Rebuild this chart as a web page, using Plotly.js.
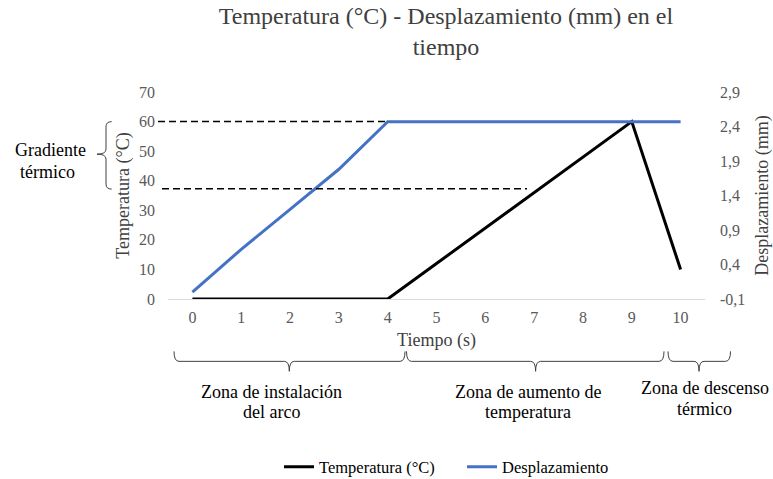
<!DOCTYPE html>
<html><head><meta charset="utf-8">
<script src="https://cdn.plot.ly/plotly-3.0.1.min.js"></script>
<style>html,body{margin:0;padding:0;background:#fff}#chart{width:773px;height:479px}</style>
</head><body><div id="chart"></div>
<script>
// ---- data ----
const tiempo = [0, 1, 2, 3, 4, 5, 6, 7, 8, 9, 10];
const temperatura = [0, 0, 0, 0, 0, 12, 24, 36, 48, 60, 10];
const desplazamiento = [0, 0.62, 1.2, 1.78, 2.47, 2.47, 2.47, 2.47, 2.47, 2.47, 2.47];
const leftTickVals = [0, 10, 20, 30, 40, 50, 60, 70];
const rightTickVals = [-0.1, 0.4, 0.9, 1.4, 1.9, 2.4, 2.9];
const rightTickText = ['-0,1', '0,4', '0,9', '1,4', '1,9', '2,4', '2,9'];
const gradienteLimites = [60, 37.3];
const zonaLineas1 = ['Zona de instalación', 'Zona de aumento de', 'Zona de descenso'];
const zonaLineas2 = ['del arco', 'temperatura', 'térmico'];

// ---- geometry (pixels) ----
const W = 773, H = 479, PL = 168, PR = 705, PT = 92, PB = 299.5;
const fx = p => (p - PL) / (PR - PL);
const fy = p => (PB - p) / (PB - PT);
const serif = '"Liberation Serif", serif';

function hBrace(xL, xR, xT, yTop, yMid, yTip) {
  const r = 5;
  const pts = `M${fx(xL)},${fy(yTop)} Q${fx(xL)},${fy(yMid)} ${fx(xL + r)},${fy(yMid)} ` +
    `L${fx(xT - r)},${fy(yMid)} Q${fx(xT)},${fy(yMid)} ${fx(xT)},${fy(yTip)} ` +
    `Q${fx(xT)},${fy(yMid)} ${fx(xT + r)},${fy(yMid)} L${fx(xR - r)},${fy(yMid)} ` +
    `Q${fx(xR)},${fy(yMid)} ${fx(xR)},${fy(yTop)}`;
  return {type: 'path', xref: 'paper', yref: 'paper', path: pts, line: {color: '#404040', width: 1}};
}
function vBrace(yT, yB, yTip, xOpen, xMid, xTip) {
  const r = 5;
  const pts = `M${fx(xOpen)},${fy(yT)} Q${fx(xMid)},${fy(yT)} ${fx(xMid)},${fy(yT + r)} ` +
    `L${fx(xMid)},${fy(yTip - r)} Q${fx(xMid)},${fy(yTip)} ${fx(xTip)},${fy(yTip)} ` +
    `Q${fx(xMid)},${fy(yTip)} ${fx(xMid)},${fy(yTip + r)} L${fx(xMid)},${fy(yB - r)} ` +
    `Q${fx(xMid)},${fy(yB)} ${fx(xOpen)},${fy(yB)}`;
  return {type: 'path', xref: 'paper', yref: 'paper', path: pts, line: {color: '#404040', width: 1}};
}

const traces = [
  {x: tiempo, y: temperatura, name: 'Temperatura (°C)', type: 'scatter', mode: 'lines',
   line: {color: '#000000', width: 3}, yaxis: 'y'},
  {x: tiempo, y: desplazamiento, name: 'Desplazamiento', type: 'scatter', mode: 'lines',
   line: {color: '#4472C4', width: 3}, yaxis: 'y2'}
];

const zoneCenters = [271.7, 527.6, 704.5];
const annotations = [];
zonaLineas1.forEach((t, i) => {
  annotations.push({xref: 'paper', yref: 'paper', x: fx(zoneCenters[i]), y: fy(i === 2 ? 389 : 393),
    text: t, showarrow: false, xanchor: 'center', yanchor: 'middle',
    font: {family: serif, size: 18, color: '#000'}});
  annotations.push({xref: 'paper', yref: 'paper', x: fx(zoneCenters[i]), y: fy(i === 2 ? 410 : 413),
    text: zonaLineas2[i], showarrow: false, xanchor: 'center', yanchor: 'middle',
    font: {family: serif, size: 18, color: '#000'}});
});
annotations.push({xref: 'paper', yref: 'paper', x: fx(50.5), y: fy(150), text: 'Gradiente',
  showarrow: false, xanchor: 'center', yanchor: 'middle', font: {family: serif, size: 18, color: '#000'}});
annotations.push({xref: 'paper', yref: 'paper', x: fx(47), y: fy(172), text: 'térmico',
  showarrow: false, xanchor: 'center', yanchor: 'middle', font: {family: serif, size: 18, color: '#000'}});

const shapes = [
  {type: 'line', xref: 'paper', yref: 'y', x0: fx(158), x1: fx(389), y0: gradienteLimites[0], y1: gradienteLimites[0],
   line: {color: '#000', width: 1.5, dash: '7px,4px'}},
  {type: 'line', xref: 'paper', yref: 'y', x0: fx(162), x1: fx(527), y0: gradienteLimites[1], y1: gradienteLimites[1],
   line: {color: '#000', width: 1.5, dash: '7px,4px'}},
  hBrace(174, 405, 289.3, 352, 362, 372),
  hBrace(406.5, 664, 535.6, 352, 362, 372),
  hBrace(668, 730.5, 699, 352, 362, 372),
  vBrace(121.7, 189.3, 154.3, 111.7, 106, 97)
];

const layout = {
  width: W, height: H,
  margin: {l: PL, r: W - PR, t: PT, b: H - PB, pad: 0},
  paper_bgcolor: '#fff', plot_bgcolor: '#fff',
  font: {family: serif, color: '#595959'},
  title: {text: 'Temperatura (°C) - Desplazamiento (mm) en el<br>tiempo',
    font: {family: serif, size: 24, color: '#404040'},
    x: 446 / W, xref: 'container', xanchor: 'center', y: 1 - 24 / H, yref: 'container', yanchor: 'top'},
  xaxis: {range: [-0.5, 10.5], tickvals: tiempo, ticktext: tiempo.map(String),
    showgrid: false, zeroline: false, showline: true, linecolor: '#d9d9d9', linewidth: 1,
    ticks: '', ticklabelstandoff: 4, tickfont: {family: serif, size: 16, color: '#595959'},
    title: {text: 'Tiempo (s)', standoff: 8, font: {family: serif, size: 18, color: '#404040'}}},
  yaxis: {range: [0, 70], tickvals: leftTickVals, showgrid: false, zeroline: false, showline: false,
    ticks: '', ticklabelstandoff: 12, tickfont: {family: serif, size: 16, color: '#595959'},
    title: {text: 'Temperatura (°C)', standoff: 4, font: {family: serif, size: 18, color: '#404040'}}},
  yaxis2: {range: [-0.1, 2.9], overlaying: 'y', side: 'right', tickvals: rightTickVals, ticktext: rightTickText,
    showgrid: false, zeroline: false, showline: false, ticks: '', ticklabelstandoff: 14,
    tickfont: {family: serif, size: 16, color: '#595959'},
    title: {text: 'Desplazamiento (mm)', standoff: 32, font: {family: serif, size: 18, color: '#404040'}}},
  legend: {orientation: 'h', xref: 'container', yref: 'container', x: 462 / W, xanchor: 'center',
    y: 1 - 467 / H, yanchor: 'middle', entrywidth: 138, entrywidthmode: 'pixels',
    font: {family: serif, size: 16.5, color: '#000'}, bgcolor: 'rgba(0,0,0,0)'},
  showlegend: true,
  annotations: annotations,
  shapes: shapes
};

Plotly.newPlot('chart', traces, layout, {displayModeBar: false, staticPlot: true});
</script>
</body></html>
